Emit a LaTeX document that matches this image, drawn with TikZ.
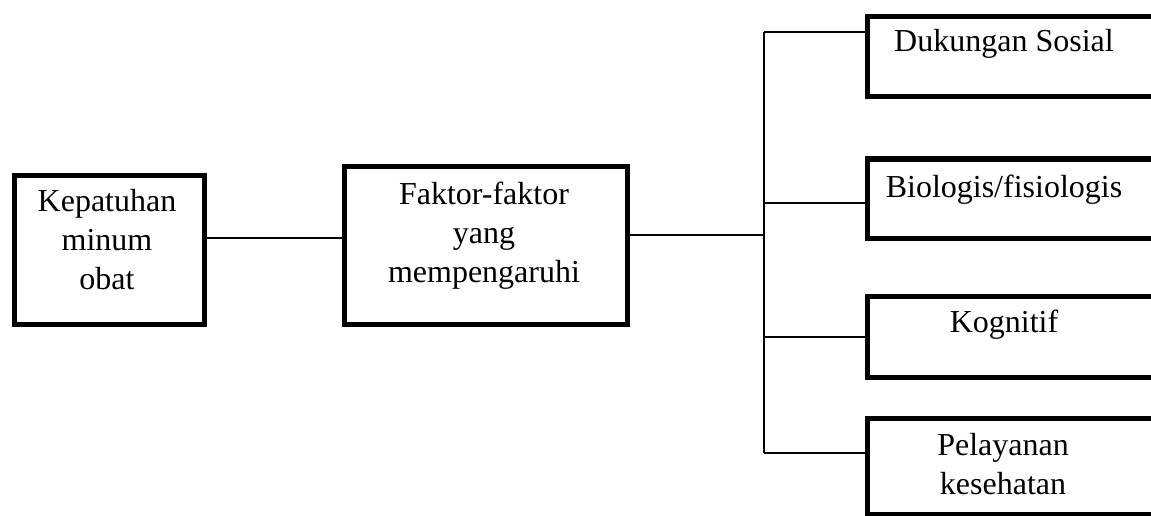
\documentclass[tikz,border=0pt]{standalone}
\usepackage{fontspec}
\setmainfont{Liberation Serif}
\begin{document}
\begin{tikzpicture}[x=1pt,y=1pt,
  boxnode/.style={draw=black,line width=5pt,rectangle,inner sep=0pt,anchor=north west},
  txt/.style={inner sep=0pt,align=center,font=\fontsize{32}{39}\selectfont},
  conn/.style={draw=black,line width=1.8pt}]
\useasboundingbox (0,0) rectangle (1151,-516);
\begin{scope}
\clip (0,0) rectangle (1151,-516);
% boxes
\node[boxnode,minimum width=190pt,minimum height=149pt] (b1) at (11.5,-172.5) {};
\node[boxnode,minimum width=283pt,minimum height=158pt] (b2) at (341.5,-163.5) {};
\node[boxnode,minimum width=320pt,minimum height=80pt] (r1) at (864.5,-14.5) {};
\node[boxnode,minimum width=320pt,minimum height=79pt] (r2) at (864.5,-156.5) {};
\node[boxnode,minimum width=320pt,minimum height=81pt] (r3) at (864.5,-293.5) {};
\node[boxnode,minimum width=320pt,minimum height=96pt] (r4) at (864.5,-415.5) {};
\end{scope}
% texts
\node[txt] (t1) at (107,-240) {Kepatuhan\\minum\\obat};
\node[txt] (t2) at (484,-236) {Faktor-faktor\\yang\\mempengaruhi};
\node[txt,anchor=base] (tr1) at (1004,-52) {Dukungan Sosial};
\node[txt,anchor=base] (tr2) at (1004,-197) {Biologis/fisiologis};
\node[txt,anchor=base] (tr3) at (1004,-332) {Kognitif};
\node[txt] (tr4) at (1003,-464) {Pelayanan\\kesehatan};
% connector coordinates
\coordinate (m1) at (0,-238);
\coordinate (m2) at (0,-235);
\coordinate (k1) at (764,-32);
\coordinate (k2) at (764,-203);
\coordinate (k3) at (764,-337);
\coordinate (k4) at (764,-453);
\coordinate (kt) at (764,-235);
% connectors
\draw[conn] (b1.east |- m1) -- (b2.west |- m1);
\draw[conn] (b2.east |- m2) -- (kt);
\draw[conn] (k1) -- (k4);
\draw[conn] (k1) -- (r1.west |- k1);
\draw[conn] (k2) -- (r2.west |- k2);
\draw[conn] (k3) -- (r3.west |- k3);
\draw[conn] (k4) -- (r4.west |- k4);
\end{tikzpicture}
\end{document}
